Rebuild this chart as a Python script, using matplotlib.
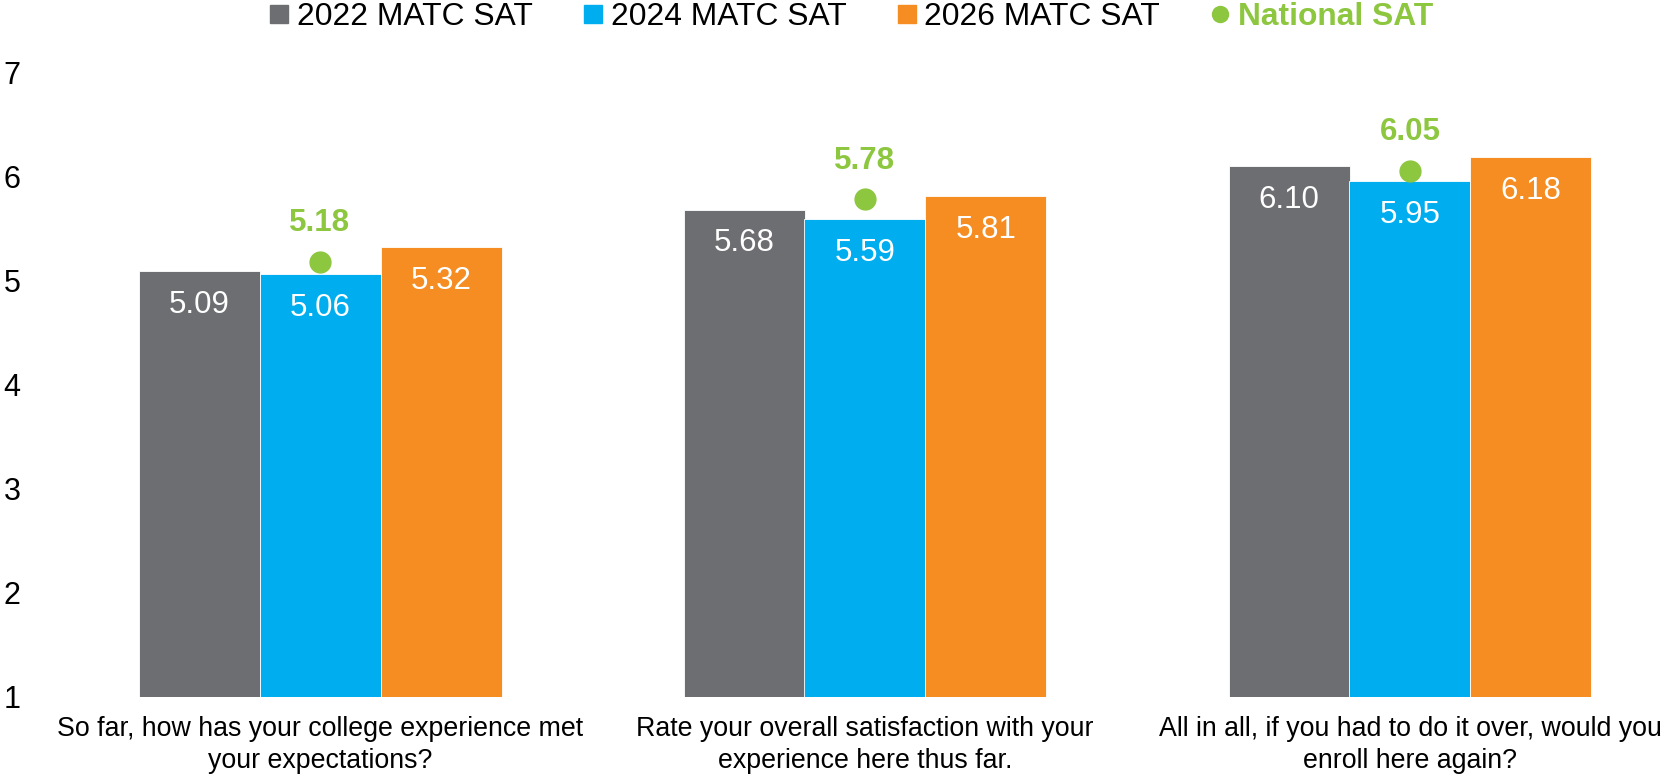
import matplotlib
matplotlib.use("Agg")
import matplotlib.pyplot as plt
from matplotlib.lines import Line2D
import numpy as np

plt.rcParams['font.family'] = ['Liberation Sans', 'DejaVu Sans']

categories = ["So far, how has your college experience met\nyour expectations?",
              "Rate your overall satisfaction with your\nexperience here thus far.",
              "All in all, if you had to do it over, would you\nenroll here again?"]
series_names = ["2022 MATC SAT", "2024 MATC SAT", "2026 MATC SAT"]
sat_2022 = [5.09, 5.68, 6.10]
sat_2024 = [5.06, 5.59, 5.95]
sat_2026 = [5.32, 5.81, 6.18]
national = [5.18, 5.78, 6.05]
national_name = "National SAT"
yticks = [1, 2, 3, 4, 5, 6, 7]

colors = ["#6D6E71", "#00AEEF", "#F58D22"]
green = "#8DC63F"

W, H = 1665, 778
fig = plt.figure(figsize=(W/100, H/100), dpi=100)
left_px, right_px = 40, 1665
top_px, bot_px = 72, 697
ax = fig.add_axes([left_px/W, 1-bot_px/H, (right_px-left_px)/W, (bot_px-top_px)/H])

unit = 545.0
c0 = 320.0
ax.set_xlim((left_px-c0)/unit, (right_px-c0)/unit)
ax.set_ylim(1, 7)

x = np.arange(len(categories))
bw = 121/unit
base = 1
for i, vals in enumerate([sat_2022, sat_2024, sat_2026]):
    xs = x + (i-1)*bw
    heights = [v-base for v in vals]
    ax.bar(xs, heights, bottom=base, width=bw, color=colors[i], edgecolor='white', linewidth=0.6)
    for xi, v in zip(xs, vals):
        ax.text(xi, v-0.325, f"{v:.2f}", ha='center', va='center', color='white', fontsize=22.5)

ax.plot(x, national, 'o', color=green, markersize=15, linestyle='none')
for xi, v in zip(x, national):
    ax.text(xi, v+0.37, f"{v:.2f}", ha='center', va='center', color=green, fontsize=22.5, fontweight='bold')

ax.set_yticks(yticks)
ax.set_yticklabels([str(t) for t in yticks], fontsize=22)
ax.set_xticks(x)
ax.set_xticklabels(categories, fontsize=19.25, linespacing=1.3)
ax.tick_params(axis='both', length=0)
ax.tick_params(axis='y', pad=14)
ax.tick_params(axis='x', pad=14)
for s in ax.spines.values():
    s.set_visible(False)

handles = [Line2D([], [], marker='s', color=c, linestyle='none', markersize=13) for c in colors]
handles.append(Line2D([], [], marker='o', color=green, linestyle='none', markersize=11.5))
leg = fig.legend(handles, series_names + [national_name], loc='center', bbox_to_anchor=(851.5/W, 1-17/H),
                 ncol=4, frameon=False, fontsize=22.9, handlelength=0.6, handletextpad=0.25,
                 columnspacing=1.6, borderpad=0)
t = leg.get_texts()[3]
t.set_color(green)
t.set_fontweight('bold')

fig.savefig("out.png", dpi=100)
